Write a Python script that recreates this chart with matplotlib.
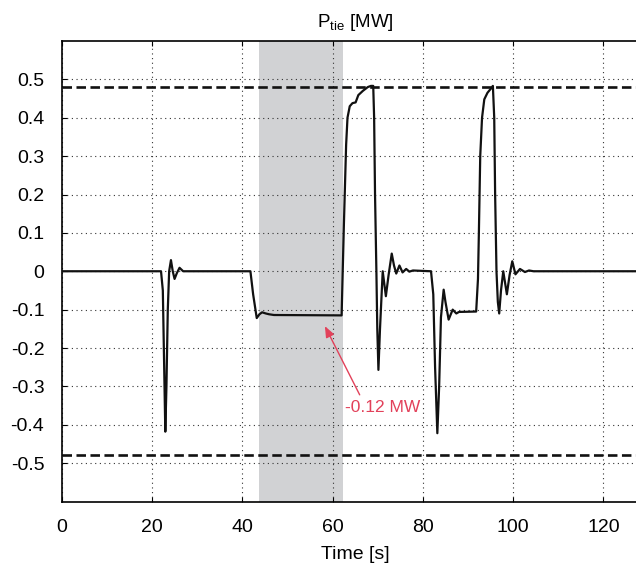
"""Plots tie-line power flow over time with the limits and the islanded interval."""


import matplotlib
matplotlib.use('Agg')
import matplotlib.pyplot as plt


# Tie-line power (s, MW).
TIME = [
    0.0, 22.0, 22.4, 22.7, 22.95, 23.2, 23.5, 23.8, 24.2, 24.6, 25.0, 25.5,
    26.1, 26.9, 41.8, 42.4, 43.2, 43.8, 44.4, 45.2, 45.9, 47.0, 62.0, 62.2,
    62.5, 62.7, 63.0, 63.3, 63.8, 64.4, 65.1, 65.7, 66.7, 67.8, 68.5, 69.0,
    69.2, 69.4, 69.7, 69.9, 70.15, 70.5, 71.1, 71.8, 72.4, 73.1, 73.6, 74.1,
    74.8, 75.5, 76.3, 77.0, 77.8, 81.8, 82.3, 82.7, 83.2, 83.6, 84.0, 84.6,
    85.0, 85.7, 86.6, 87.4, 88.0, 91.8, 92.2, 92.4, 92.7, 93.1, 93.6, 94.3,
    95.0, 95.5, 95.8, 96.0, 96.3, 96.6, 96.9, 97.3, 97.8, 98.6, 99.2, 99.8,
    100.5, 101.5, 102.6, 103.5, 104.5, 127.2,
]
P_TIE = [
    0.0, 0.0, -0.05, -0.25, -0.418, -0.3, -0.1, 0.0, 0.029, 0.0, -0.02, -0.005,
    0.009, 0.0, 0.0, -0.06, -0.122, -0.112, -0.107, -0.110, -0.112, -0.114,
    -0.115, -0.02, 0.12, 0.205, 0.33, 0.40, 0.43, 0.438, 0.44, 0.459, 0.47,
    0.48, 0.483, 0.483, 0.40, 0.2, 0.0, -0.15, -0.257, -0.15, 0.0, -0.065,
    -0.01, 0.046, 0.015, -0.006, 0.015, -0.003, 0.006, -0.001, 0.002, 0.0,
    -0.06, -0.25, -0.422, -0.3, -0.12, -0.048, -0.08, -0.126, -0.1, -0.11,
    -0.106, -0.105, -0.02, 0.1, 0.3, 0.40, 0.448, 0.465, 0.475, 0.483, 0.40,
    0.2, 0.0, -0.08, -0.11, -0.05, 0.0, -0.06, -0.01, 0.026, -0.008, 0.006,
    -0.002, 0.002, 0.0, 0.0,
]

P_LIMIT = 0.48
ISLAND_START = 43.7
ISLAND_END = 62.2

X_TICKS = [0, 20, 40, 60, 80, 100, 120]
Y_TICKS = [0.5, 0.4, 0.3, 0.2, 0.1, 0, -0.1, -0.2, -0.3, -0.4, -0.5]
Y_TICK_LABELS = ['0.5', '0.4', '0.3', '0.2', '0.1', '0',
                 '-0.1', '-0.2', '-0.3', '-0.4', '-0.5']

NOTE_TEXT = '-0.12 MW'
NOTE_TIP = (58.3, -0.143)
NOTE_TAIL = (66.0, -0.322)
NOTE_POS = (62.8, -0.354)

_RED = '#e2415a'
_FONT = 'Liberation Sans'


def _main():
    plt.rcParams['font.family'] = [_FONT, 'DejaVu Sans']
    plt.rcParams['mathtext.fontset'] = 'custom'
    plt.rcParams['mathtext.rm'] = _FONT
    plt.rcParams['mathtext.it'] = _FONT + ':italic'

    fig = plt.figure(figsize=(6.36, 5.71), dpi=100)
    ax = fig.add_axes([0.097, 0.1217, 0.903, 0.8065])

    ax.axvspan(ISLAND_START, ISLAND_END, color='#d1d2d4', lw=0, zorder=0)

    for y in [P_LIMIT, -P_LIMIT]:
        ax.axhline(y, color='#111111', lw=1.9, dashes=(3.6, 1.7), zorder=2)

    ax.plot(TIME, P_TIE, color='#111111', lw=1.6, zorder=3)

    _decorate(ax)
    _annotate(ax)

    fig.savefig('out.png', dpi=100)


def _decorate(ax):
    ax.set_xlim(0, 127.2)
    ax.set_ylim(-0.6, 0.6)

    ax.set_xticks(X_TICKS)
    ax.set_yticks(Y_TICKS)
    ax.set_yticklabels(Y_TICK_LABELS)

    ax.tick_params(direction='in', length=3.5, width=0.8, labelsize=14,
                   top=True)
    ax.tick_params(axis='x', pad=12.5)
    ax.tick_params(axis='y', pad=12.5)

    ax.grid(True, color='#333333', lw=0.8, dashes=(1, 3.2))
    ax.set_axisbelow(True)

    for side in ['left', 'bottom', 'top']:
        ax.spines[side].set_linewidth(1.2)
    ax.spines['right'].set_visible(False)

    # original axis ran to 130 s, so labels sit at t = 65
    mid = 65 / 127.2
    ax.set_xlabel('Time [s]', fontsize=14)
    ax.xaxis.set_label_coords(mid, -0.097)
    ax.xaxis.label.set_va('top')

    ax.set_title(r'P$_{\mathrm{tie}}$ [MW]', fontsize=13.5, pad=10)
    ax.title.set_x(mid)


def _annotate(ax):
    ax.annotate('', xy=NOTE_TIP, xytext=NOTE_TAIL,
                arrowprops=dict(arrowstyle='-|>,head_length=0.55,head_width=0.22',
                                color=_RED, lw=1.0, mutation_scale=12,
                                shrinkA=0, shrinkB=0),
                zorder=4)
    ax.text(NOTE_POS[0], NOTE_POS[1], NOTE_TEXT, color=_RED, fontsize=12.5,
            ha='left', va='center', zorder=4)


if __name__ == '__main__':
    _main()
